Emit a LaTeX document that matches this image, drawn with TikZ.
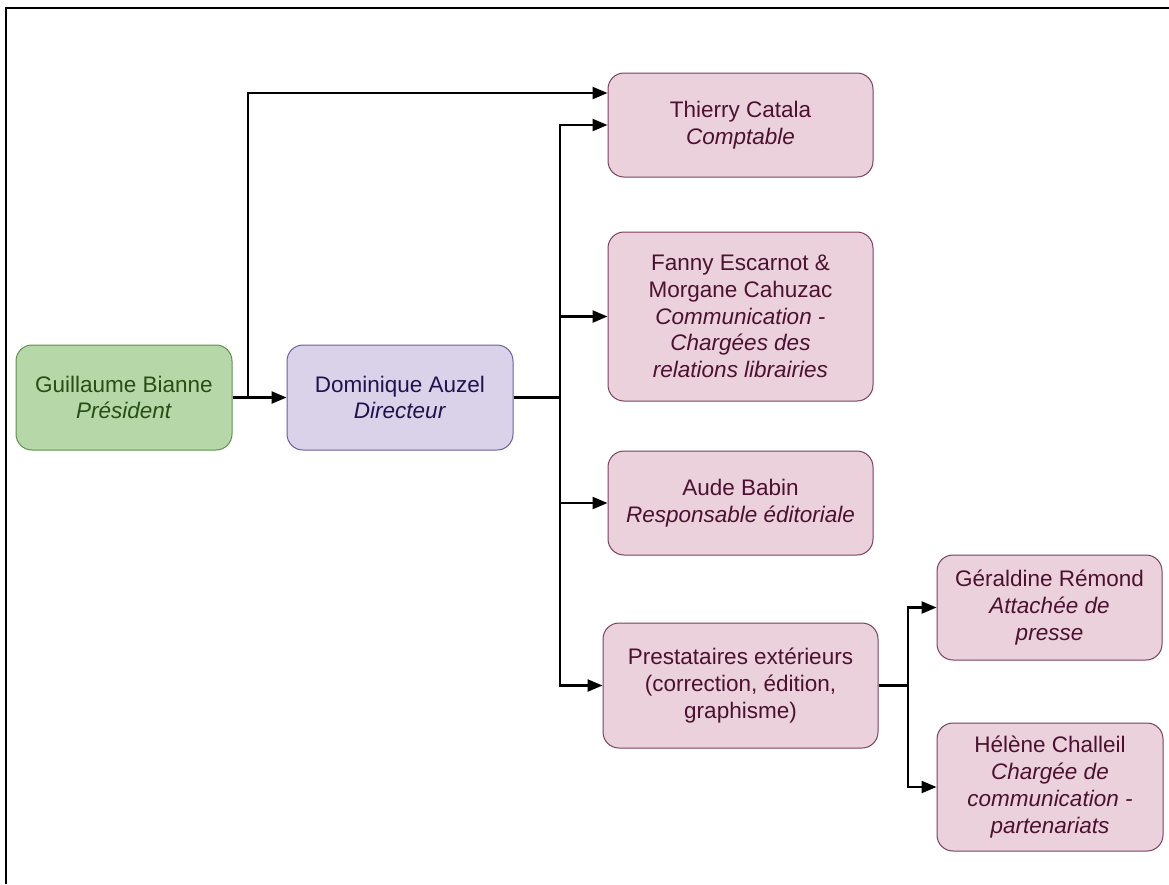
\documentclass[tikz,border=0pt]{standalone}
\usepackage{fontspec}
\setmainfont{Liberation Sans}
\usetikzlibrary{arrows.meta}
\definecolor{gfill}{HTML}{B6D7A8}
\definecolor{gdraw}{HTML}{5E9148}
\definecolor{gtext}{HTML}{274E13}
\definecolor{lfill}{HTML}{D9D2E9}
\definecolor{ldraw}{HTML}{6E5CA0}
\definecolor{ltext}{HTML}{20124D}
\definecolor{pfill}{HTML}{EAD1DC}
\definecolor{pdraw}{HTML}{7A3F5E}
\definecolor{ptext}{HTML}{4C1130}
\tikzset{
  box/.style={rounded corners=16pt, line width=1pt, align=center, inner sep=0pt,
    font=\fontsize{22.5}{26.7}\selectfont},
  gbox/.style={box, fill=gfill, draw=gdraw, text=gtext},
  lbox/.style={box, fill=lfill, draw=ldraw, text=ltext},
  pbox/.style={box, fill=pfill, draw=pdraw, text=ptext},
  conn/.style={line width=2.4pt, black},
  arr/.style={conn, -{Triangle[length=15pt,width=12pt]}},
}
\begin{document}
\begin{tikzpicture}[x=1pt,y=-1pt]
\useasboundingbox (0,0) rectangle (1169,884);
\draw[line width=2.8pt] (6,884) -- (6,8) -- (1169,8);

\node[gbox, minimum width=216pt, minimum height=105pt] (G) at (124,397.5)
  {Guillaume Bianne\\ \textit{Président}};
\node[lbox, minimum width=226pt, minimum height=105pt] (D) at (400,397.5)
  {Dominique Auzel\\ \textit{Directeur}};
\node[pbox, minimum width=265pt, minimum height=104pt] (T) at (740.5,125)
  {Thierry Catala\\ \textit{Comptable}};
\node[pbox, minimum width=265pt, minimum height=169pt] (F) at (740.5,316.5)
  {Fanny Escarnot \&\\ Morgane Cahuzac\\ \textit{Communication -}\\ \textit{Chargées des}\\ \textit{relations librairies}};
\node[pbox, minimum width=265pt, minimum height=104pt] (A) at (740.5,503)
  {Aude Babin\\ \textit{Responsable éditoriale}};
\node[pbox, minimum width=275pt, minimum height=125pt] (P) at (740.5,685.5)
  {Prestataires extérieurs\\ (correction, édition,\\ graphisme)};
\node[pbox, minimum width=225pt, minimum height=105pt] (R) at (1049.5,607.5)
  {Géraldine Rémond\\ \textit{Attachée de}\\ \textit{presse}};
\node[pbox, minimum width=226pt, minimum height=128pt] (H) at (1050,787)
  {Hélène Challeil\\ \textit{Chargée de}\\ \textit{communication -}\\ \textit{partenariats}};

\coordinate (j1) at (248,397.5);
\coordinate (j2) at (560,397.5);
\coordinate (j3) at (908,685.5);
\coordinate (tin) at ([yshift=32pt]T.west);

\draw[arr] (G.east) -- (D.west);
\draw[arr] (j1) |- (tin);
\draw[conn] (D.east) -- (j2);
\draw[arr] (j2) |- (T.west);
\draw[arr] (j2) |- (F.west);
\draw[arr] (j2) |- (A.west);
\draw[arr] (j2) |- (P.west);
\draw[conn] (P.east) -- (j3);
\draw[arr] (j3) |- (R.west);
\draw[arr] (j3) |- (H.west);
\end{tikzpicture}
\end{document}
